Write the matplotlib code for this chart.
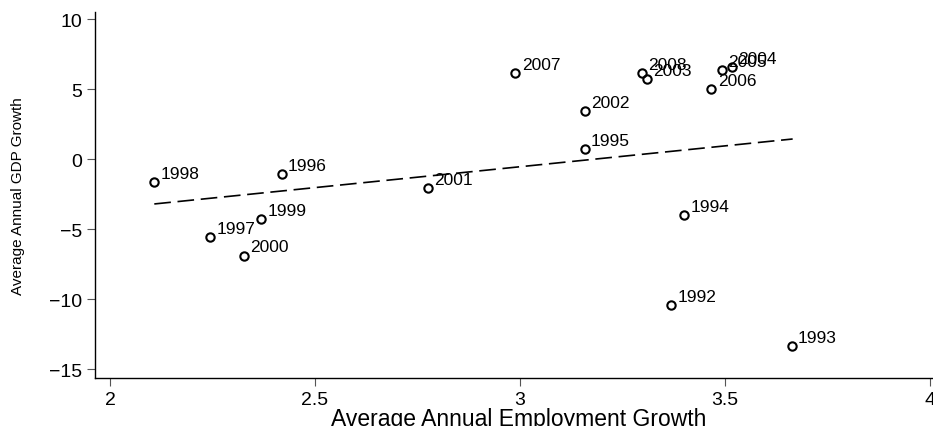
import matplotlib
matplotlib.use("Agg")
import matplotlib.pyplot as plt

plt.rcParams['font.family'] = ['Liberation Sans', 'DejaVu Sans']

years = ['1992', '1993', '1994', '1995', '1996', '1997', '1998', '1999', '2000',
         '2001', '2002', '2003', '2004', '2005', '2006', '2007', '2008']
emp_growth = [3.369, 3.663, 3.400, 3.158, 2.419, 2.244, 2.108, 2.369, 2.327,
              2.776, 3.158, 3.309, 3.516, 3.493, 3.467, 2.989, 3.297]
gdp_growth = [-10.41, -13.36, -3.98, 0.71, -1.07, -5.60, -1.67, -4.29, -6.90,
              -2.10, 3.41, 5.71, 6.59, 6.38, 5.00, 6.14, 6.12]
fit_x = [2.108, 3.665]
fit_y = [-3.21, 1.43]
xticks = [2, 2.5, 3, 3.5, 4]
xtick_labels = ['2', '2.5', '3', '3.5', '4']
yticks = [10, 5, 0, -5, -10, -15]

fig = plt.figure(figsize=(9.33, 4.27), dpi=100)
ax = fig.add_axes([95/933, 1 - 379/427, 1 - 95/933, (379 - 13)/427])

ax.plot(emp_growth, gdp_growth, linestyle='none', marker='o', markersize=6,
        markerfacecolor='none', markeredgecolor='black', markeredgewidth=1.5)
ax.plot(fit_x, fit_y, color='black', linewidth=1.2, linestyle=(0, (10, 4)))

for yr, xv, yv in zip(years, emp_growth, gdp_growth):
    ax.annotate(yr, (xv, yv), xytext=(4.5, 3), textcoords='offset points',
                fontsize=12.5, ha='left', va='baseline')

ax.set_xlim(1.9634, 4.0073)
ax.set_ylim(-15.64, 10.5)
ax.set_xticks(xticks)
ax.set_xticklabels(xtick_labels)
ax.set_yticks(yticks)
ax.spines['top'].set_visible(False)
ax.spines['right'].set_visible(False)
ax.spines['left'].set_linewidth(1.0)
ax.spines['bottom'].set_linewidth(1.0)
ax.tick_params(axis='both', direction='out', length=5.5, width=0.8, color='#555555',
               labelsize=14, pad=4)
ax.set_xlabel('Average Annual Employment Growth', fontsize=16.5, va='top')
ax.xaxis.set_label_coords(0.506, -0.078)
ax.set_ylabel('Average Annual GDP Growth', fontsize=11)
ax.yaxis.set_label_coords(-0.084, 0.5)

fig.savefig('out.png', dpi=100)
